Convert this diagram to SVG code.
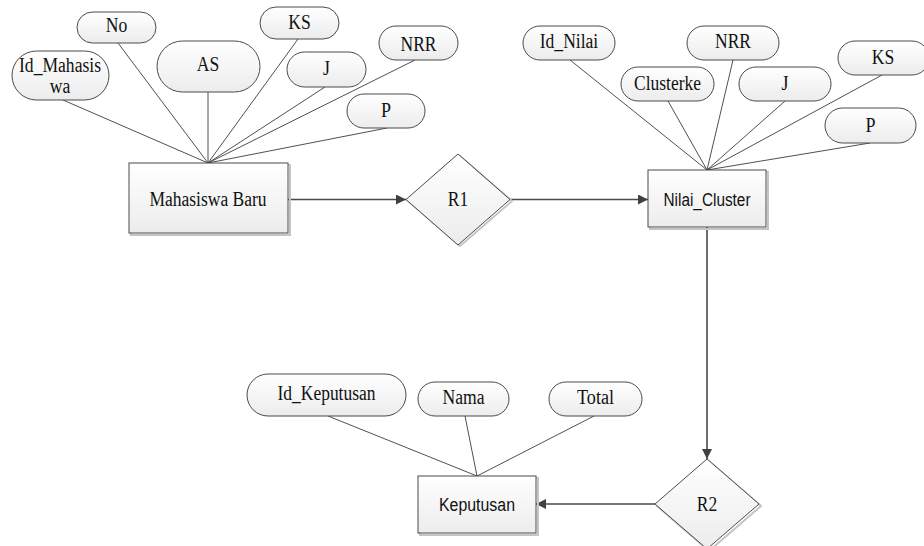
<svg xmlns="http://www.w3.org/2000/svg" width="924" height="546" viewBox="0 0 924 546" font-family="Liberation Serif, Times New Roman, serif" font-size="20" text-anchor="middle">
  <defs>
    <linearGradient id="fillGrad" x1="0" y1="0" x2="0" y2="1">
      <stop offset="0" stop-color="#ffffff"/>
      <stop offset="1" stop-color="#ececec"/>
    </linearGradient>
    <marker id="arrow" viewBox="0 0 10 10" refX="10" refY="5" markerWidth="10" markerHeight="10" markerUnits="userSpaceOnUse" orient="auto">
      <path d="M0,0 L10,5 L0,10 Z" fill="#404040"/>
    </marker>
  </defs>
  <style>
    .shape { fill: url(#fillGrad); stroke: #4a4a4a; stroke-width: 1; }
    .shadow { fill: none; stroke: #c4c4c4; stroke-width: 2; }
    .attr-line { stroke: #3c3c3c; stroke-width: 0.9; fill: none; }
    .flow { stroke: #4a4a4a; stroke-width: 1.6; fill: none; marker-end: url(#arrow); }
    text { fill: #111; }
  </style>
  <rect width="924" height="546" fill="#ffffff"/>

  <!-- attribute links and relationship flows -->
  <g id="connectors">
    <line class="attr-line" x1="63" y1="100" x2="208" y2="163"/>
    <line class="attr-line" x1="118" y1="43" x2="208" y2="163"/>
    <line class="attr-line" x1="208" y1="92" x2="208" y2="163"/>
    <line class="attr-line" x1="298" y1="39" x2="208" y2="163"/>
    <line class="attr-line" x1="325" y1="87" x2="208" y2="163"/>
    <line class="attr-line" x1="415" y1="60" x2="208" y2="163"/>
    <line class="attr-line" x1="387" y1="128" x2="208" y2="163"/>

    <line class="attr-line" x1="570" y1="60" x2="707" y2="170"/>
    <line class="attr-line" x1="668" y1="101" x2="707" y2="170"/>
    <line class="attr-line" x1="733" y1="60" x2="707" y2="170"/>
    <line class="attr-line" x1="785" y1="101" x2="707" y2="170"/>
    <line class="attr-line" x1="882" y1="75" x2="707" y2="170"/>
    <line class="attr-line" x1="870" y1="143" x2="707" y2="170"/>

    <line class="attr-line" x1="328" y1="416" x2="477" y2="476"/>
    <line class="attr-line" x1="465" y1="416" x2="477" y2="476"/>
    <line class="attr-line" x1="594" y1="416" x2="477" y2="476"/>

    <line class="flow" x1="288" y1="199.5" x2="406" y2="199.5"/>
    <line class="flow" x1="510" y1="199.5" x2="648" y2="199.5"/>
    <line class="flow" x1="707" y1="227" x2="707" y2="459"/>
    <line class="flow" x1="655" y1="504" x2="536" y2="504"/>
  </g>

  <!-- entity: Mahasiswa Baru and attributes -->
  <g id="mahasiswa-baru">
    <rect class="shadow" x="131" y="165" width="159" height="70"/>
    <rect class="shape" x="129" y="163" width="159" height="70"/>
    <text x="208" y="206" textLength="117" lengthAdjust="spacingAndGlyphs">Mahasiswa Baru</text>
  </g>
  <g id="attr-id-mahasiswa">
    <rect class="shape" x="12" y="51" width="97" height="49" rx="24.5"/>
    <text x="60" y="72" textLength="82" lengthAdjust="spacingAndGlyphs">Id_Mahasis</text>
    <text x="60" y="93" textLength="20.5" lengthAdjust="spacingAndGlyphs">wa</text>
  </g>
  <g id="attr-no">
    <rect class="shape" x="77" y="12" width="79" height="31" rx="15.5"/>
    <text x="116.5" y="32" textLength="21.5" lengthAdjust="spacingAndGlyphs">No</text>
  </g>
  <g id="attr-as">
    <rect class="shape" x="157" y="41" width="103" height="51" rx="25.5"/>
    <text x="208" y="71" textLength="22.5" lengthAdjust="spacingAndGlyphs">AS</text>
  </g>
  <g id="attr-ks-1">
    <rect class="shape" x="260" y="7" width="79" height="32" rx="16"/>
    <text x="299.5" y="29" textLength="22.5" lengthAdjust="spacingAndGlyphs">KS</text>
  </g>
  <g id="attr-j-1">
    <rect class="shape" x="287" y="52" width="79" height="35" rx="17.5"/>
    <text x="326.5" y="75" textLength="7" lengthAdjust="spacingAndGlyphs">J</text>
  </g>
  <g id="attr-nrr-1">
    <rect class="shape" x="379" y="26" width="79" height="34" rx="17"/>
    <text x="418.5" y="51" textLength="36" lengthAdjust="spacingAndGlyphs">NRR</text>
  </g>
  <g id="attr-p-1">
    <rect class="shape" x="347" y="94" width="78" height="34" rx="17"/>
    <text x="386" y="117" textLength="10" lengthAdjust="spacingAndGlyphs">P</text>
  </g>

  <!-- relationship R1 -->
  <g id="r1">
    <path class="shadow" d="M460,156 L512,201 L460,246 L408,201 Z"/>
    <path class="shape" d="M458,154 L510,199.5 L458,245 L406,199.5 Z"/>
    <text x="458" y="206" textLength="20.5" lengthAdjust="spacingAndGlyphs">R1</text>
  </g>

  <!-- entity: Nilai_Cluster and attributes -->
  <g id="nilai-cluster">
    <rect class="shadow" x="650" y="172" width="118" height="57"/>
    <rect class="shape" x="648" y="170" width="118" height="57"/>
    <text x="707" y="206" font-family="Liberation Sans, Arial, sans-serif" font-size="17.5" textLength="87" lengthAdjust="spacingAndGlyphs">Nilai_Cluster</text>
  </g>
  <g id="attr-id-nilai">
    <rect class="shape" x="523" y="26" width="92" height="34" rx="17"/>
    <text x="569" y="48" textLength="58.5" lengthAdjust="spacingAndGlyphs">Id_Nilai</text>
  </g>
  <g id="attr-nrr-2">
    <rect class="shape" x="687" y="26" width="92" height="34" rx="17"/>
    <text x="733" y="48" textLength="36" lengthAdjust="spacingAndGlyphs">NRR</text>
  </g>
  <g id="attr-clusterke">
    <rect class="shape" x="621" y="67" width="93" height="34" rx="17"/>
    <text x="667.5" y="90" textLength="67" lengthAdjust="spacingAndGlyphs">Clusterke</text>
  </g>
  <g id="attr-j-2">
    <rect class="shape" x="739" y="67" width="92" height="34" rx="17"/>
    <text x="785" y="90" textLength="7" lengthAdjust="spacingAndGlyphs">J</text>
  </g>
  <g id="attr-ks-2">
    <rect class="shape" x="838" y="41" width="91" height="34" rx="17"/>
    <text x="883" y="64" textLength="22.5" lengthAdjust="spacingAndGlyphs">KS</text>
  </g>
  <g id="attr-p-2">
    <rect class="shape" x="825" y="108" width="91" height="35" rx="17.5"/>
    <text x="870.5" y="132" textLength="10" lengthAdjust="spacingAndGlyphs">P</text>
  </g>

  <!-- relationship R2 -->
  <g id="r2">
    <path class="shadow" d="M709,461 L761,506 L709,551 L657,506 Z"/>
    <path class="shape" d="M707,459 L759,504 L707,549 L655,504 Z"/>
    <text x="707" y="511" textLength="20.5" lengthAdjust="spacingAndGlyphs">R2</text>
  </g>

  <!-- entity: Keputusan and attributes -->
  <g id="keputusan">
    <rect class="shadow" x="420" y="478" width="118" height="57"/>
    <rect class="shape" x="418" y="476" width="118" height="57"/>
    <text x="477" y="511" font-family="Liberation Sans, Arial, sans-serif" font-size="17.5" textLength="76" lengthAdjust="spacingAndGlyphs">Keputusan</text>
  </g>
  <g id="attr-id-keputusan">
    <rect class="shape" x="247" y="374" width="159" height="42" rx="21"/>
    <text x="326.5" y="400" textLength="98" lengthAdjust="spacingAndGlyphs">Id_Keputusan</text>
  </g>
  <g id="attr-nama">
    <rect class="shape" x="418" y="382" width="91" height="34" rx="17"/>
    <text x="463.5" y="404" textLength="42" lengthAdjust="spacingAndGlyphs">Nama</text>
  </g>
  <g id="attr-total">
    <rect class="shape" x="549" y="382" width="93" height="34" rx="17"/>
    <text x="595.5" y="404" textLength="37" lengthAdjust="spacingAndGlyphs">Total</text>
  </g>
</svg>
